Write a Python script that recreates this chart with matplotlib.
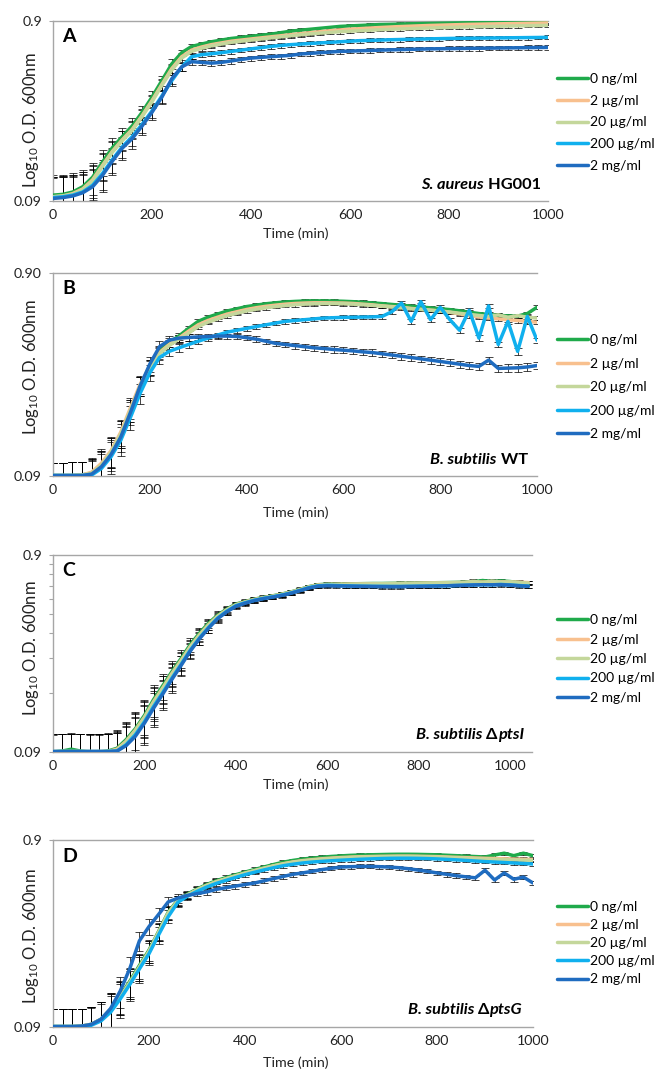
import numpy as np
import matplotlib
matplotlib.use("Agg")
import matplotlib.pyplot as plt
from matplotlib.ticker import FixedLocator, NullLocator

plt.rcParams["font.family"] = ["Lato", "DejaVu Sans"]
plt.rcParams["mathtext.default"] = "regular"

W, H = 654, 1071

labels = ["0 ng/ml", "2 µg/ml", "20 µg/ml", "200 µg/ml", "2 mg/ml"]
colors = ["#1faa4b", "#f8c08e", "#c4d79b", "#10b0ee", "#1f6cc0"]

time = np.arange(0, 1001, 20)
time_c = np.arange(0, 1041, 20)

# ---- panel A: S. aureus HG001
green_A = [0.097, 0.098, 0.101, 0.108, 0.122, 0.148, 0.178, 0.205, 0.235, 0.280,
           0.340, 0.420, 0.520, 0.600, 0.650, 0.670, 0.690, 0.705, 0.720, 0.730,
           0.740, 0.750, 0.760, 0.775, 0.790, 0.800, 0.810, 0.820, 0.830, 0.840,
           0.845, 0.850, 0.855, 0.860, 0.862, 0.865, 0.868, 0.870, 0.872, 0.874,
           0.876, 0.878, 0.880, 0.882, 0.884, 0.887, 0.889, 0.891, 0.893, 0.894,
           0.895]
peach_A = [0.095, 0.096, 0.099, 0.105, 0.118, 0.142, 0.170, 0.197, 0.225, 0.268,
           0.325, 0.400, 0.490, 0.570, 0.620, 0.645, 0.665, 0.680, 0.695, 0.705,
           0.715, 0.725, 0.735, 0.745, 0.755, 0.765, 0.775, 0.785, 0.795, 0.803,
           0.810, 0.816, 0.822, 0.828, 0.833, 0.838, 0.842, 0.846, 0.850, 0.853,
           0.856, 0.859, 0.862, 0.864, 0.866, 0.868, 0.870, 0.872, 0.874, 0.876,
           0.878]
pale_A = [0.095, 0.096, 0.098, 0.104, 0.116, 0.140, 0.168, 0.195, 0.222, 0.265,
          0.320, 0.395, 0.480, 0.560, 0.610, 0.635, 0.655, 0.670, 0.685, 0.695,
          0.705, 0.715, 0.725, 0.735, 0.745, 0.755, 0.763, 0.771, 0.778, 0.785,
          0.790, 0.795, 0.800, 0.805, 0.810, 0.813, 0.816, 0.820, 0.823, 0.826,
          0.829, 0.832, 0.835, 0.837, 0.840, 0.842, 0.844, 0.846, 0.848, 0.850,
          0.852]
cyan_A = [0.094, 0.095, 0.097, 0.101, 0.110, 0.128, 0.153, 0.180, 0.205, 0.240,
          0.285, 0.345, 0.420, 0.500, 0.570, 0.585, 0.592, 0.600, 0.610, 0.620,
          0.630, 0.640, 0.650, 0.658, 0.665, 0.670, 0.675, 0.680, 0.685, 0.690,
          0.695, 0.700, 0.702, 0.705, 0.708, 0.710, 0.712, 0.714, 0.716, 0.718,
          0.720, 0.721, 0.722, 0.723, 0.724, 0.725, 0.726, 0.727, 0.728, 0.729,
          0.730]
dark_A = [0.093, 0.094, 0.096, 0.100, 0.108, 0.125, 0.150, 0.177, 0.200, 0.235,
          0.280, 0.340, 0.430, 0.500, 0.535, 0.530, 0.525, 0.530, 0.540, 0.550,
          0.560, 0.565, 0.570, 0.575, 0.580, 0.590, 0.595, 0.600, 0.605, 0.610,
          0.612, 0.615, 0.617, 0.620, 0.622, 0.624, 0.626, 0.628, 0.630, 0.631,
          0.632, 0.633, 0.634, 0.635, 0.636, 0.637, 0.638, 0.639, 0.640, 0.641,
          0.642]
err_A = [0.028, 0.028, 0.027, 0.026, 0.025, 0.024, 0.024, 0.024, 0.024, 0.025,
         0.026, 0.028, 0.030, 0.025, 0.020, 0.018, 0.018, 0.018, 0.018, 0.018,
         0.018, 0.018, 0.018, 0.018, 0.018, 0.018, 0.018, 0.018, 0.018, 0.018,
         0.018, 0.018, 0.018, 0.018, 0.018, 0.018, 0.018, 0.018, 0.018, 0.018,
         0.018, 0.018, 0.018, 0.018, 0.018, 0.018, 0.018, 0.018, 0.018, 0.018,
         0.018]

# ---- panel B: B. subtilis WT
green_B = [0.0905, 0.0905, 0.0905, 0.091, 0.093, 0.102, 0.118, 0.145, 0.190, 0.250,
           0.310, 0.370, 0.410, 0.440, 0.480, 0.520, 0.545, 0.565, 0.585, 0.600,
           0.615, 0.625, 0.635, 0.642, 0.648, 0.652, 0.655, 0.656, 0.656, 0.655,
           0.653, 0.650, 0.646, 0.641, 0.636, 0.630, 0.624, 0.618, 0.612, 0.606,
           0.600, 0.594, 0.586, 0.577, 0.568, 0.562, 0.557, 0.553, 0.552, 0.568,
           0.610]
peach_B = [0.0905, 0.0905, 0.0905, 0.091, 0.094, 0.104, 0.120, 0.148, 0.195, 0.255,
           0.310, 0.365, 0.400, 0.430, 0.465, 0.500, 0.525, 0.545, 0.565, 0.580,
           0.595, 0.607, 0.617, 0.625, 0.632, 0.637, 0.640, 0.642, 0.642, 0.641,
           0.640, 0.637, 0.632, 0.627, 0.620, 0.615, 0.610, 0.602, 0.596, 0.590,
           0.585, 0.576, 0.566, 0.556, 0.546, 0.540, 0.535, 0.530, 0.525, 0.520,
           0.515]
pale_B = [0.0905, 0.0905, 0.0905, 0.091, 0.093, 0.102, 0.118, 0.145, 0.190, 0.250,
          0.305, 0.360, 0.395, 0.425, 0.455, 0.490, 0.515, 0.535, 0.555, 0.570,
          0.585, 0.597, 0.607, 0.615, 0.622, 0.628, 0.632, 0.635, 0.636, 0.636,
          0.635, 0.632, 0.628, 0.623, 0.618, 0.612, 0.606, 0.600, 0.595, 0.590,
          0.585, 0.578, 0.570, 0.563, 0.556, 0.550, 0.560, 0.545, 0.555, 0.545,
          0.540]
cyan_B = [0.0905, 0.0905, 0.0905, 0.0905, 0.091, 0.098, 0.112, 0.135, 0.175, 0.230,
          0.290, 0.345, 0.370, 0.385, 0.400, 0.415, 0.430, 0.445, 0.460, 0.470,
          0.480, 0.490, 0.500, 0.510, 0.520, 0.525, 0.530, 0.535, 0.540, 0.542,
          0.544, 0.545, 0.546, 0.547, 0.550, 0.580, 0.640, 0.520, 0.650, 0.530,
          0.610, 0.530, 0.470, 0.590, 0.430, 0.620, 0.400, 0.520, 0.370, 0.550,
          0.420]
dark_B = [0.0905, 0.0905, 0.0905, 0.0905, 0.092, 0.100, 0.115, 0.140, 0.185, 0.250,
          0.320, 0.390, 0.420, 0.430, 0.433, 0.436, 0.438, 0.440, 0.440, 0.438,
          0.432, 0.425, 0.415, 0.405, 0.400, 0.395, 0.390, 0.385, 0.382, 0.378,
          0.375, 0.372, 0.368, 0.365, 0.360, 0.355, 0.350, 0.345, 0.340, 0.335,
          0.330, 0.325, 0.320, 0.315, 0.312, 0.335, 0.305, 0.306, 0.307, 0.310,
          0.315]
err_B = [0.014, 0.014, 0.015, 0.015, 0.016, 0.018, 0.020, 0.022, 0.024, 0.026,
         0.026, 0.024, 0.020, 0.018, 0.016, 0.014, 0.013, 0.013, 0.013, 0.013,
         0.013, 0.013, 0.013, 0.013, 0.013, 0.013, 0.013, 0.013, 0.013, 0.013,
         0.013, 0.013, 0.013, 0.013, 0.013, 0.013, 0.013, 0.013, 0.013, 0.013,
         0.013, 0.013, 0.013, 0.013, 0.013, 0.013, 0.013, 0.013, 0.013, 0.013,
         0.013]

# ---- panel C: B. subtilis dptsI (runs to 1040 min)
green_C = [0.090, 0.091, 0.093, 0.091, 0.090, 0.090, 0.091, 0.094, 0.104, 0.118,
           0.138, 0.166, 0.195, 0.230, 0.268, 0.315, 0.360, 0.405, 0.445, 0.478,
           0.507, 0.522, 0.537, 0.548, 0.558, 0.570, 0.584, 0.602, 0.622, 0.636,
           0.640, 0.641, 0.642, 0.643, 0.644, 0.645, 0.645, 0.646, 0.647, 0.648,
           0.649, 0.650, 0.651, 0.652, 0.653, 0.655, 0.658, 0.668, 0.660, 0.665,
           0.660, 0.652, 0.648]
peach_C = [0.0905, 0.0905, 0.0905, 0.0905, 0.0905, 0.0905, 0.0905, 0.093, 0.102, 0.116,
           0.135, 0.162, 0.190, 0.225, 0.262, 0.308, 0.353, 0.398, 0.440, 0.474,
           0.503, 0.520, 0.535, 0.546, 0.556, 0.568, 0.582, 0.600, 0.620, 0.634,
           0.638, 0.639, 0.640, 0.641, 0.642, 0.643, 0.643, 0.644, 0.645, 0.646,
           0.647, 0.648, 0.649, 0.650, 0.651, 0.652, 0.654, 0.656, 0.655, 0.657,
           0.656, 0.655, 0.652]
pale_C = [0.0905, 0.0905, 0.0905, 0.0905, 0.0905, 0.0905, 0.0905, 0.092, 0.101, 0.115,
          0.134, 0.160, 0.188, 0.222, 0.259, 0.305, 0.350, 0.395, 0.437, 0.472,
          0.501, 0.518, 0.533, 0.545, 0.555, 0.567, 0.580, 0.598, 0.618, 0.632,
          0.636, 0.637, 0.638, 0.640, 0.641, 0.642, 0.643, 0.644, 0.645, 0.646,
          0.647, 0.648, 0.649, 0.650, 0.652, 0.654, 0.662, 0.652, 0.664, 0.655,
          0.658, 0.652, 0.648]
cyan_C = [0.0905, 0.0905, 0.0905, 0.0905, 0.0905, 0.0905, 0.0905, 0.091, 0.098, 0.110,
          0.128, 0.153, 0.180, 0.213, 0.250, 0.295, 0.340, 0.385, 0.430, 0.466,
          0.497, 0.515, 0.530, 0.542, 0.552, 0.563, 0.577, 0.595, 0.615, 0.628,
          0.632, 0.630, 0.628, 0.626, 0.625, 0.624, 0.624, 0.623, 0.623, 0.624,
          0.625, 0.626, 0.627, 0.628, 0.630, 0.632, 0.634, 0.636, 0.635, 0.638,
          0.634, 0.630, 0.626]
dark_C = [0.0905, 0.0905, 0.0905, 0.0905, 0.0905, 0.0905, 0.0905, 0.091, 0.097, 0.108,
          0.126, 0.150, 0.177, 0.210, 0.247, 0.292, 0.337, 0.382, 0.427, 0.463,
          0.494, 0.512, 0.528, 0.540, 0.550, 0.561, 0.575, 0.593, 0.612, 0.625,
          0.628, 0.627, 0.626, 0.625, 0.624, 0.623, 0.622, 0.622, 0.622, 0.623,
          0.624, 0.625, 0.626, 0.628, 0.630, 0.632, 0.634, 0.636, 0.635, 0.636,
          0.633, 0.628, 0.624]
err_C = [0.020, 0.020, 0.020, 0.020, 0.020, 0.020, 0.021, 0.022, 0.024, 0.026,
         0.028, 0.030, 0.030, 0.030, 0.028, 0.026, 0.024, 0.022, 0.020, 0.018,
         0.014, 0.014, 0.014, 0.014, 0.014, 0.014, 0.014, 0.014, 0.014, 0.014,
         0.014, 0.014, 0.014, 0.014, 0.014, 0.014, 0.014, 0.014, 0.014, 0.014,
         0.014, 0.014, 0.014, 0.014, 0.014, 0.014, 0.014, 0.014, 0.014, 0.014,
         0.014, 0.014, 0.014]

# ---- panel D: B. subtilis dptsG
green_D = [0.0905, 0.0905, 0.0905, 0.091, 0.093, 0.099, 0.112, 0.132, 0.158, 0.192,
           0.232, 0.292, 0.370, 0.430, 0.462, 0.492, 0.520, 0.545, 0.566, 0.586,
           0.606, 0.626, 0.646, 0.666, 0.685, 0.700, 0.712, 0.720, 0.728, 0.735,
           0.740, 0.745, 0.748, 0.750, 0.752, 0.754, 0.755, 0.755, 0.754, 0.752,
           0.750, 0.746, 0.742, 0.738, 0.734, 0.730, 0.748, 0.765, 0.742, 0.765,
           0.742]
peach_D = [0.0905, 0.0905, 0.0905, 0.091, 0.093, 0.099, 0.111, 0.130, 0.155, 0.188,
           0.228, 0.288, 0.365, 0.425, 0.457, 0.487, 0.514, 0.538, 0.558, 0.578,
           0.598, 0.617, 0.636, 0.655, 0.672, 0.687, 0.698, 0.706, 0.714, 0.720,
           0.725, 0.729, 0.732, 0.734, 0.736, 0.737, 0.738, 0.738, 0.737, 0.735,
           0.733, 0.730, 0.727, 0.724, 0.721, 0.718, 0.716, 0.714, 0.712, 0.710,
           0.708]
pale_D = [0.0905, 0.0905, 0.0905, 0.091, 0.093, 0.099, 0.111, 0.130, 0.155, 0.188,
          0.228, 0.288, 0.365, 0.425, 0.457, 0.487, 0.514, 0.538, 0.558, 0.578,
          0.598, 0.617, 0.636, 0.654, 0.670, 0.684, 0.695, 0.703, 0.710, 0.716,
          0.721, 0.725, 0.728, 0.730, 0.732, 0.733, 0.734, 0.734, 0.733, 0.731,
          0.729, 0.726, 0.722, 0.718, 0.714, 0.710, 0.708, 0.706, 0.704, 0.702,
          0.700]
cyan_D = [0.0905, 0.0905, 0.0905, 0.0905, 0.092, 0.097, 0.108, 0.127, 0.152, 0.184,
          0.222, 0.280, 0.350, 0.418, 0.450, 0.478, 0.504, 0.527, 0.547, 0.567,
          0.587, 0.605, 0.623, 0.640, 0.656, 0.668, 0.678, 0.686, 0.692, 0.697,
          0.702, 0.706, 0.710, 0.713, 0.716, 0.718, 0.719, 0.719, 0.718, 0.716,
          0.713, 0.709, 0.705, 0.700, 0.695, 0.690, 0.686, 0.682, 0.678, 0.674,
          0.670]
dark_D = [0.0905, 0.0905, 0.0905, 0.091, 0.093, 0.099, 0.113, 0.140, 0.185, 0.260,
          0.310, 0.360, 0.420, 0.440, 0.455, 0.465, 0.475, 0.490, 0.500, 0.510,
          0.520, 0.530, 0.545, 0.560, 0.575, 0.590, 0.600, 0.612, 0.625, 0.635,
          0.645, 0.648, 0.650, 0.650, 0.648, 0.645, 0.640, 0.632, 0.622, 0.612,
          0.600, 0.590, 0.580, 0.572, 0.565, 0.620, 0.550, 0.600, 0.555, 0.570,
          0.530]
err_D = [0.022, 0.022, 0.022, 0.022, 0.022, 0.023, 0.024, 0.026, 0.028, 0.030,
         0.030, 0.030, 0.028, 0.024, 0.020, 0.016, 0.016, 0.016, 0.016, 0.016,
         0.016, 0.016, 0.016, 0.016, 0.016, 0.016, 0.016, 0.016, 0.016, 0.016,
         0.016, 0.016, 0.016, 0.016, 0.016, 0.016, 0.016, 0.016, 0.016, 0.016,
         0.016, 0.016, 0.016, 0.016, 0.016, 0.016, 0.016, 0.016, 0.016, 0.016,
         0.016]

GRAY = "#a6a6a6"
TXT = "#222222"

# box in pixels (left, top, right, bottom), legend top y / spacing, strain label pieces
panels = [
    dict(letter="A", t=time, series=[green_A, peach_A, pale_A, cyan_A, dark_A], err=err_A,
         box=(53, 21, 548, 201), xmax=1000, top_label="0.9", leg_y=77, leg_sp=0.70,
         xlab_y=234, ylab_y=120, strain_y=185, strain_x=541,
         strain=[("S. aureus", "italic"), (" HG001", "normal")], minor=False),
    dict(letter="B", t=time, series=[green_B, peach_B, pale_B, cyan_B, dark_B], err=err_B,
         box=(53, 273, 537, 476), xmax=1000, top_label="0.90", leg_y=338, leg_sp=0.83,
         xlab_y=513, ylab_y=367, strain_y=460, strain_x=528,
         strain=[("B. subtilis", "italic"), (" WT", "normal")], minor=False),
    dict(letter="C", t=time_c, series=[green_C, peach_C, pale_C, cyan_C, dark_C], err=err_C,
         box=(53, 555, 532, 752), xmax=1048, top_label="0.9", leg_y=618, leg_sp=0.54,
         xlab_y=785, ylab_y=648, strain_y=735, strain_x=524,
         strain=[("B. subtilis", "italic"), (" Δ", "normal"), ("ptsI", "italic")], minor=True),
    dict(letter="D", t=time, series=[green_D, peach_D, pale_D, cyan_D, dark_D], err=err_D,
         box=(53, 840, 533, 1027), xmax=1000, top_label="0.9", leg_y=905, leg_sp=0.44,
         xlab_y=1063, ylab_y=936, strain_y=1010, strain_x=522,
         strain=[("B. subtilis", "italic"), (" Δ", "normal"), ("ptsG", "italic")], minor=False),
]

fig = plt.figure(figsize=(W / 100, H / 100), dpi=100)
renderer = fig.canvas.get_renderer()

for p in panels:
    l, t, r, b = p["box"]
    ax = fig.add_axes([l / W, 1 - b / H, (r - l) / W, (b - t) / H])
    tt = p["t"]
    handles = []
    for vals, col, lab in zip(p["series"], colors, labels):
        ax.errorbar(tt, vals, yerr=p["err"], fmt="none", ecolor="black",
                    elinewidth=0.6, capsize=2.6, capthick=0.6, alpha=0.85, zorder=2)
        h, = ax.plot(tt, vals, color=col, lw=2.5, solid_joinstyle="round",
                     solid_capstyle="round", label=lab, zorder=3)
        handles.append(h)

    ax.set_yscale("log")
    ax.set_ylim(0.09, 0.9)
    ax.set_xlim(0, p["xmax"])
    ax.set_yticks([0.09, 0.9])
    ax.set_yticklabels(["0.09", p["top_label"]])
    if p["minor"]:
        ax.yaxis.set_minor_locator(FixedLocator([0.09 * k for k in range(2, 10)]))
    else:
        ax.yaxis.set_minor_locator(NullLocator())
    ax.set_xticks(range(0, 1001, 200))
    ax.tick_params(axis="x", length=0, pad=6, labelsize=10.2, colors=TXT)
    ax.tick_params(axis="y", which="major", length=3, width=0.8, color=GRAY, pad=5,
                   labelsize=10.2, labelcolor=TXT)
    ax.tick_params(axis="y", which="minor", length=3, width=0.8, color=GRAY)
    for side in ["top", "bottom", "left"]:
        ax.spines[side].set_color(GRAY)
        ax.spines[side].set_linewidth(1.0)
    ax.spines["right"].set_visible(False)
    ax.patch.set_alpha(0)

    ax.text(9 / (r - l), 1 - 16 / (b - t), p["letter"], transform=ax.transAxes,
            fontsize=14, fontweight="bold", ha="left", va="center")

    fig.text(296 / W, 1 - p["xlab_y"] / H, "Time (min)", ha="center", va="center",
             fontsize=10.3, color=TXT)
    fig.text(31 / W, 1 - p["ylab_y"] / H, "Log$_{10}$ O.D. 600nm", ha="center",
             va="center", rotation=90, fontsize=12, color=TXT)

    # strain label, pieces placed right to left
    x = p["strain_x"]
    for txt, style in reversed(p["strain"]):
        tx = fig.text(x / W, 1 - p["strain_y"] / H, txt, ha="right", va="center",
                      fontsize=11.8, fontweight="bold", fontstyle=style)
        x -= tx.get_window_extent(renderer).width

    ax.legend(handles=handles, loc="upper left",
              bbox_to_anchor=(557 / W, 1 - (p["leg_y"] - 4) / H),
              bbox_transform=fig.transFigure, frameon=False, fontsize=10,
              handlelength=2.2, handletextpad=0.15, borderpad=0, borderaxespad=0,
              labelspacing=p["leg_sp"])

fig.savefig("out.png", dpi=100)
